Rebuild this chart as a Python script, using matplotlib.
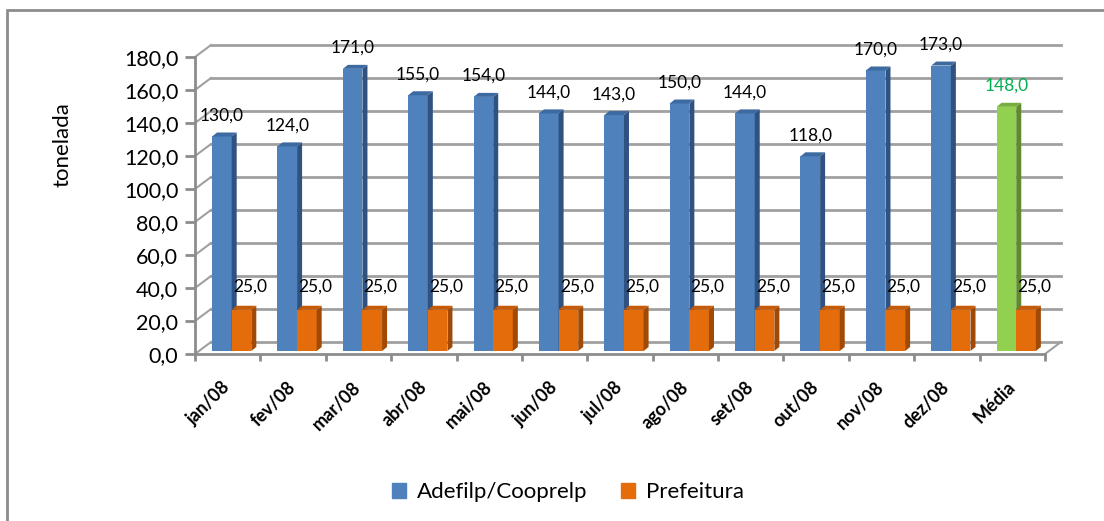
import matplotlib
matplotlib.use("Agg")
import matplotlib.pyplot as plt
from matplotlib.patches import Polygon, Rectangle, Patch

# dados
meses = ['jan/08', 'fev/08', 'mar/08', 'abr/08', 'mai/08', 'jun/08', 'jul/08',
         'ago/08', 'set/08', 'out/08', 'nov/08', 'dez/08', 'Média']
adefilp = [130, 124, 171, 155, 154, 144, 143, 150, 144, 118, 170, 173, 148]
prefeitura = [25, 25, 25, 25, 25, 25, 25, 25, 25, 25, 25, 25, 25]
y_ticks = [0, 20, 40, 60, 80, 100, 120, 140, 160, 180]

plt.rcParams['font.family'] = ['Lato', 'DejaVu Sans']

fig = plt.figure(figsize=(11.04, 5.21), dpi=100)
W, H = 1104, 521
px_x = 65.38          # pixels por categoria
px_y = 297 / 180.0    # pixels por tonelada
xmax, ymax = 13.3, 190
left_px, base_px = 195, 354
ax = fig.add_axes([left_px / W, (H - base_px) / H,
                   xmax * px_x / W, ymax * px_y / H])
ax.set_xlim(0, xmax)
ax.set_ylim(0, ymax)
ax.patch.set_alpha(0)

# profundidade (parede do fundo e barras)
dxw, dyw = 16 / px_x, 12 / px_y
bx, by = 4 / px_x, 3 / px_y
ddx, ddy = 5 / px_x, 4 / px_y
w = 0.3

grid_c = '#a0a0a0'
n = len(meses)
for v in y_ticks:
    ax.plot([dxw, n + dxw], [v + dyw, v + dyw], color=grid_c, lw=2, zorder=1,
            clip_on=False)
    ax.plot([0, dxw], [v, v + dyw], color=grid_c, lw=1.5, zorder=1, clip_on=False)
ax.plot([n, n + dxw], [0, dyw], color=grid_c, lw=1.5, zorder=1, clip_on=False)

# eixos
for s in ['top', 'right']:
    ax.spines[s].set_visible(False)
ax.spines['left'].set_bounds(0, 180)
ax.spines['bottom'].set_bounds(0, n)
for s in ['left', 'bottom']:
    ax.spines[s].set_color('#8c8c8c')
    ax.spines[s].set_linewidth(2)
ax.set_yticks(y_ticks)
ax.set_yticklabels([f"{v:.1f}".replace('.', ',') for v in y_ticks], fontsize=15.5)
ax.tick_params(axis='y', length=7, width=2, color='#8c8c8c', pad=5)
ax.set_xticks(range(n + 1))
ax.set_xticklabels([])
ax.tick_params(axis='x', which='major', length=5, width=2, color='#8c8c8c')
ax.set_xticks([i + 0.5 for i in range(n)], minor=True)
ax.set_xticklabels(meses, minor=True, rotation=45, ha='right', va='center',
                   rotation_mode='anchor', fontsize=13, fontweight='bold')
ax.tick_params(axis='x', which='minor', length=0, pad=22)


def barra3d(xc, val, front, side, top, z):
    x0, x1 = xc - w / 2, xc + w / 2
    y1 = val + by
    ax.bar(xc, val, width=w, bottom=by, color=front, zorder=z, lw=0)
    ax.add_patch(Polygon([(x1, by), (x1 + ddx, by + ddy), (x1 + ddx, y1 + ddy), (x1, y1)],
                         closed=True, facecolor=side, lw=0, zorder=z))
    ax.add_patch(Polygon([(x0, y1), (x0 + ddx, y1 + ddy), (x1 + ddx, y1 + ddy), (x1, y1)],
                         closed=True, facecolor=top, lw=0, zorder=z))


for i in range(n):
    gc = i + 0.5 + bx
    xb, xo = gc - w / 2, gc + w / 2
    if meses[i] == 'Média':
        cores = ('#92d050', '#5f8b2f', '#76ad3c')
        cor_txt = '#00b050'
    else:
        cores = ('#4f81bd', '#2f5280', '#3d6aa0')
        cor_txt = 'black'
    barra3d(xb, adefilp[i], *cores, z=3 + 2 * i)
    barra3d(xo, prefeitura[i], '#e46c0a', '#a04a05', '#c55a08', z=4 + 2 * i)
    ax.annotate(f"{adefilp[i]:.1f}".replace('.', ','), (xb, adefilp[i] + by),
                xytext=(0, 15), textcoords='offset points', ha='center', va='center',
                fontsize=12.5, color=cor_txt, zorder=40)
    ax.annotate(f"{prefeitura[i]:.1f}".replace('.', ','), (xo, prefeitura[i] + by),
                xytext=(6, 16.5), textcoords='offset points', ha='center', va='center',
                fontsize=12.5, color='black', zorder=40)

fig.text(63 / W, 1 - 145 / H, 'tonelada', rotation=90, ha='center', va='center',
         fontsize=16)

# moldura
fig.add_artist(Rectangle((7 / W, -0.1), 1.2, 1.1 - 10 / H, transform=fig.transFigure,
                         fill=False, edgecolor='#8c8c8c', lw=2))

handles = [Patch(color='#4f81bd', label='Adefilp/Cooprelp'),
           Patch(color='#e46c0a', label='Prefeitura')]
fig.legend(handles=handles, loc='center', bbox_to_anchor=(568 / W, 1 - 492 / H),
           ncol=2, frameon=False, fontsize=16, handlelength=0.65, handleheight=0.65,
           handletextpad=0.5, columnspacing=1.5)

fig.savefig('out.png', dpi=100)
